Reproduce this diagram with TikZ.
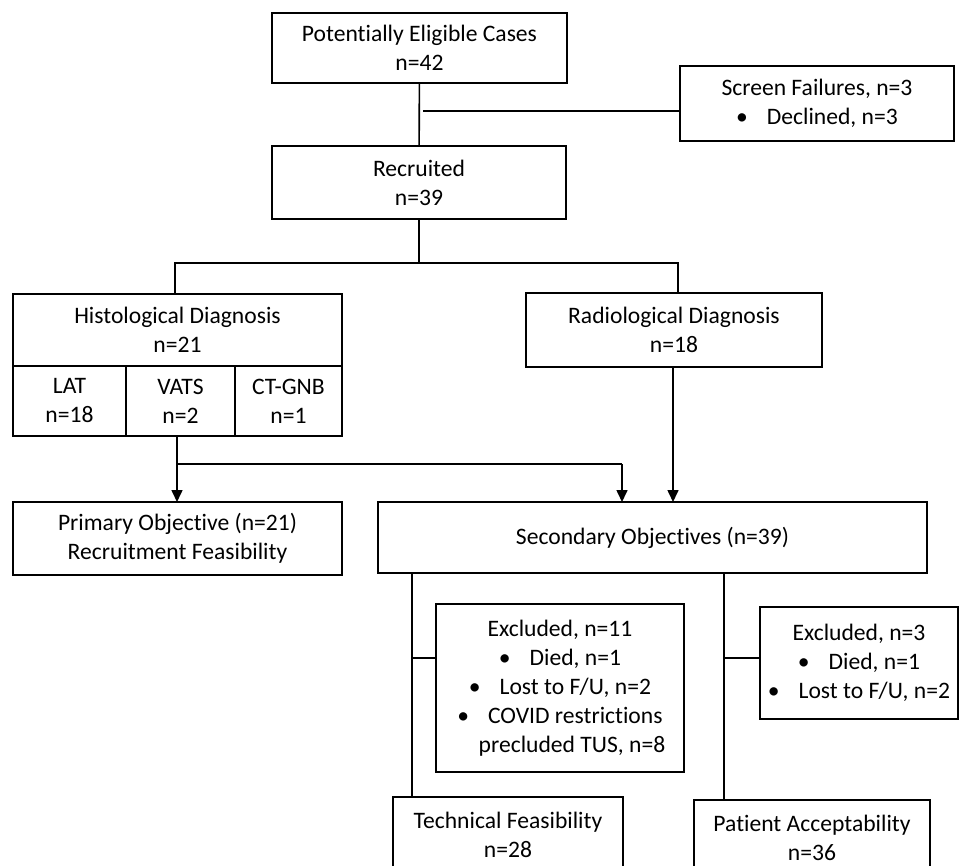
\documentclass[tikz,border=0pt]{standalone}
\usepackage{fontspec}
\setmainfont{Carlito}[Ligatures=CommonOff]
\usepackage{tikz}
\usetikzlibrary{arrows.meta}
\usetikzlibrary{positioning}
\newcommand{\bul}{\textbullet\hspace{0.8em}}
\tikzset{box/.style = {draw, line width=1.6pt, inner sep=0pt, outer sep=0pt,
                       align=center, font=\fontsize{23.6}{29}\selectfont},
         link/.style = {line width=1.6pt},
         ->/.style = {-{Triangle[width=11pt, length=12pt]}}}

\begin{document}
\begin{tikzpicture}[x=1pt, y=-1pt]
    \useasboundingbox (0, 0) rectangle (960, 866);
    \node (elig) [box, minimum width=295, minimum height=70] at (419.5, 48) {Potentially Eligible Cases\\n=42};
    \node (screen) [box, minimum width=274, minimum height=75] at (817, 103.5) {Screen Failures, n=3\\\bul Declined, n=3};
    \node (recr) [box, minimum width=294, minimum height=73] at (419, 182.5) {Recruited\\n=39};
    \node (histo) [box, minimum width=329, minimum height=72] at (177.5, 330) {Histological Diagnosis\\n=21};
    \node (lat) [box, minimum width=113, minimum height=70] at (69.5, 401) {LAT\\n=18};
    \node (vats) [box, minimum width=109, minimum height=70] at (180.5, 401) {VATS\\n=2};
    \node (ctgnb) [box, minimum width=107, minimum height=70] at (288.5, 401) {CT-GNB\\n=1};
    \node (radio) [box, minimum width=296, minimum height=74] at (674, 330) {Radiological Diagnosis\\n=18};
    \node (prim) [box, minimum width=329, minimum height=73] at (177.5, 538.5) {Primary Objective (n=21)\\Recruitment Feasibility};
    \node (second) [box, minimum width=549, minimum height=71] at (652.5, 537.5) {Secondary Objectives (n=39)};
    \node (excl1) [box, minimum width=248, minimum height=168] at (560, 688) {Excluded, n=11\\\bul Died, n=1\\\bul Lost to F/U, n=2\\\bul COVID restrictions\\\hspace*{24pt}precluded TUS, n=8};
    \node (excl2) [box, minimum width=198, minimum height=112] at (859, 663) {Excluded, n=3\\\bul Died, n=1\\\bul Lost to F/U, n=2};
    \node (tech) [box, minimum width=230, minimum height=75] at (508, 834.5) {Technical Feasibility\\n=28};
    \node (pat) [box, minimum width=236, minimum height=76] at (812, 838) {Patient Acceptability\\n=36};

    \coordinate (sf) at (423, 111);
    \coordinate (split) at (419, 263);
    \coordinate (hl) at (175, 263);
    \coordinate (rl) at (678, 263);
    \coordinate (obj) at (177, 464);
    \coordinate (objr) at (622, 464);
    \coordinate (ex1) at (412, 658);
    \coordinate (ex2) at (724, 658);

    \draw [link] (elig) -- (recr);
    \draw [link] (sf) -- (sf -| screen.west);
    \draw [link] (recr) -- (split);
    \draw [link] (hl |- histo.north) -- (hl) -- (rl) -- (rl |- radio.north);
    \draw [link] (obj |- lat.south) -- (obj) -- (objr);
    \draw [link, ->] (obj) -- (obj |- prim.north);
    \draw [link, ->] (objr) -- (objr |- second.north);
    \draw [link, ->] (673, 367) -- (673, 502);
    \draw [link] (ex1 |- second.south) -- (ex1 |- tech.north);
    \draw [link] (ex1) -- (ex1 -| excl1.west);
    \draw [link] (ex2 |- second.south) -- (ex2 |- pat.north);
    \draw [link] (ex2) -- (ex2 -| excl2.west);
\end{tikzpicture}
\end{document}
